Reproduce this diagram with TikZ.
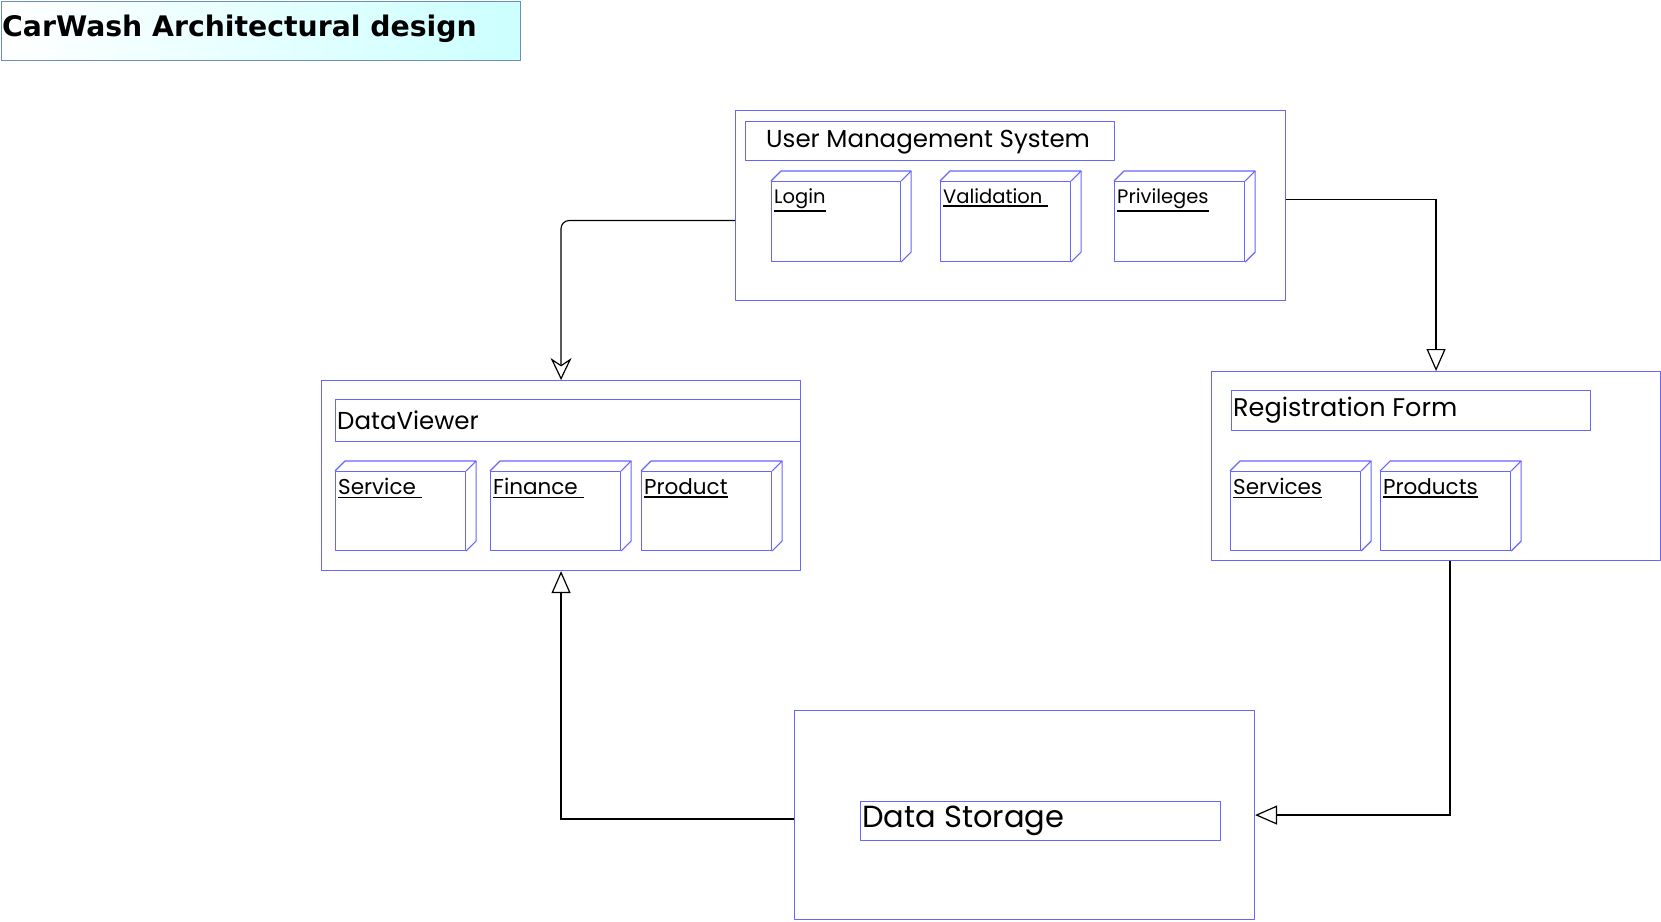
\documentclass[tikz,border=0pt]{standalone}
\usepackage{fontspec}
\setmainfont{Poppins}
\newfontfamily\titlefont{DejaVu Sans}
\usetikzlibrary{arrows.meta,calc}
\definecolor{sk}{RGB}{102,102,255}
\definecolor{tb}{RGB}{108,142,191}
\definecolor{cy}{RGB}{204,255,255}
\newcommand\labelsize{19.5}
\newcommand\ulx[1]{\leavevmode\vtop{\hbox{#1}\kern2pt\hrule height 1.6pt}}
\tikzset{
  skline/.style={draw=sk, line width=1.1pt, line join=round},
  outerbox/.style={skline, rectangle, inner sep=0pt, anchor=north west},
  titlebox/.style={skline, rectangle, inner sep=0pt, anchor=north west},
  cubefront/.style={skline, rectangle, inner sep=0pt},
  cubelabel/.style={anchor=north west, inner xsep=3pt, inner ysep=7pt, font=\fontsize{\labelsize}{24}\selectfont},
  boxtext/.style={anchor=west, inner sep=0pt, font=\fontsize{24.5}{28}\selectfont},
  conn/.style={draw=black, line width=1.2pt},
  tri/.style={-{Triangle[open, length=22pt, width=19pt, line width=1.2pt]}},
  opn/.style={-{Stealth[open, length=22pt, width=21pt, inset=7pt, line width=1.2pt]}}
}
\newcommand\cubebox[6]{%
  \node[cubefront, minimum width=#4pt-10pt, minimum height=#5pt-10pt, anchor=north west] (#1) at (#2,#3+10) {};
  \draw[skline] (#1.north west) -- ++(10pt,10pt) -- ($(#1.north east)+(10pt,10pt)$) -- (#1.north east);
  \draw[skline] ($(#1.north east)+(10pt,10pt)$) -- ($(#1.south east)+(10pt,10pt)$) -- (#1.south east);
  \node[cubelabel] (#1-l) at (#1.north west) {\ulx{#6}};
}
\begin{document}
\begin{tikzpicture}[x=1pt,y=-1pt]
\useasboundingbox (0,0) rectangle (1661,921);
% title
\node[draw=tb, line width=1pt, left color=white, right color=cy, rectangle, inner sep=0pt,
      minimum width=519pt, minimum height=59pt, anchor=north west] (title) at (0.5,0.5) {};
\node[anchor=west, inner sep=0pt, font=\titlefont\bfseries\fontsize{28.3}{32}\selectfont] (titletext) at (2,29) {CarWash Architectural design};

% User Management System
\node[outerbox, minimum width=550pt, minimum height=190pt] (ums) at (735,110) {};
\node[titlebox, minimum width=369pt, minimum height=39pt] (umsT) at (745,121) {};
\node[boxtext] (umsTt) at ($(umsT.west)+(21pt,-1pt)$) {User Management System};
\cubebox{login}{771}{171}{139}{90}{Login}
\cubebox{valid}{940}{171}{140}{90}{Validation\ }
\cubebox{priv}{1114}{171}{140}{90}{Privileges}

\renewcommand\labelsize{21.5}
% DataViewer
\node[outerbox, minimum width=479pt, minimum height=190pt] (dv) at (321,380) {};
\node[titlebox, minimum width=465pt, minimum height=42pt] (dvT) at (335,399) {};
\node[boxtext] (dvTt) at ($(dvT.west)+(2pt,0)$) {DataViewer};
\cubebox{service}{335}{461}{140}{89}{Service\ }
\cubebox{finance}{490}{461}{140}{89}{Finance\ }
\cubebox{product}{641}{461}{140}{89}{Product}

% Registration Form
\node[outerbox, minimum width=449pt, minimum height=189pt] (rf) at (1211,371) {};
\node[titlebox, minimum width=359pt, minimum height=40pt] (rfT) at (1231,390) {};
\node[boxtext, font=\fontsize{25.5}{30}\selectfont] (rfTt) at ($(rfT.west)+(2pt,0)$) {Registration Form};
\cubebox{services}{1230}{461}{140}{89}{Services}
\cubebox{products}{1380}{461}{140}{89}{Products}

% Data Storage
\node[outerbox, minimum width=460pt, minimum height=209pt] (ds) at (794,710) {};
\node[titlebox, minimum width=360pt, minimum height=39pt] (dsT) at (860,801) {};
\node[boxtext, font=\fontsize{30.5}{34}\selectfont] (dsTt) at ($(dsT.west)+(2pt,0)$) {Data Storage};

% connectors
\draw[conn, opn, rounded corners=8pt] ($(ums.west)+(0,15)$) -| (dv.north);
\draw[conn, tri] ($(ums.east)+(0,-6)$) -| (rf.north);
\draw[conn, tri] ($(ds.west)+(0,4)$) -| (dv.south);
\draw[conn, tri] ($(rf.south)+(14,0)$) |- (ds.east);
\end{tikzpicture}
\end{document}
